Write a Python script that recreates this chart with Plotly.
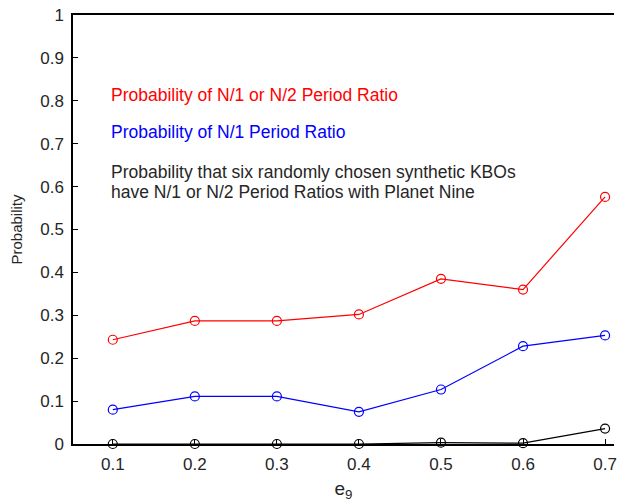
import plotly.graph_objects as go

e9 = [0.1, 0.2, 0.3, 0.4, 0.5, 0.6, 0.7]
p_n1_or_n2 = [0.243, 0.287, 0.287, 0.302, 0.385, 0.360, 0.576]
p_n1 = [0.080, 0.111, 0.111, 0.075, 0.127, 0.228, 0.253]
p_six = [0.0, 0.0, 0.0, 0.0, 0.003, 0.002, 0.036]

x_ticks = [0.1, 0.2, 0.3, 0.4, 0.5, 0.6, 0.7]
y_ticks = [0, 0.1, 0.2, 0.3, 0.4, 0.5, 0.6, 0.7, 0.8, 0.9, 1]
y_tick_text = ["0", "0.1", "0.2", "0.3", "0.4", "0.5", "0.6", "0.7", "0.8", "0.9", "1"]

FONT = "Liberation Sans, Arial, sans-serif"

fig = go.Figure()
for ys, col in [(p_n1_or_n2, "#ff0000"), (p_n1, "#0000ff"), (p_six, "#000000")]:
    fig.add_trace(go.Scatter(
        x=e9, y=ys, mode="lines+markers",
        line=dict(color=col, width=1.2),
        marker=dict(symbol="circle-open", size=9, color=col, line=dict(width=1.2)),
        showlegend=False, cliponaxis=False,
    ))

fig.update_layout(
    width=618, height=502,
    margin=dict(l=73, r=1, t=15, b=58),
    plot_bgcolor="white", paper_bgcolor="white",
    font=dict(family=FONT, color="#262626"),
    xaxis=dict(
        range=[0.0515, 0.7109], tickvals=x_ticks, ticktext=[str(v) for v in x_ticks],
        ticks="inside", ticklen=5, tickcolor="#000", tickwidth=1,
        showline=True, linecolor="#000", linewidth=2, mirror=True,
        showgrid=False, zeroline=False, ticklabeloverflow="allow",
        ticklabelstandoff=4,
        tickfont=dict(size=17, color="#262626"),
        title=dict(text="e<sub>9</sub>", font=dict(size=19, color="#262626"), standoff=8),
    ),
    yaxis=dict(
        range=[0, 1], tickvals=y_ticks, ticktext=y_tick_text,
        ticks="inside", ticklen=5, tickcolor="#000", tickwidth=1,
        showline=True, linecolor="#000", linewidth=1.5,
        showgrid=False, zeroline=False, ticklabelstandoff=4,
        tickfont=dict(size=17, color="#262626"),
        title=dict(text="Probability", font=dict(size=15, color="#262626"), standoff=14),
    ),
)

ann = [
    ("Probability of N/1 or N/2 Period Ratio", 0.813, "#ff0000"),
    ("Probability of N/1 Period Ratio", 0.727, "#0000ff"),
    ("Probability that six randomly chosen synthetic KBOs", 0.634, "#262626"),
    ("have N/1 or N/2 Period Ratios with Planet Nine", 0.587, "#262626"),
]
for text, yv, col in ann:
    fig.add_annotation(
        x=0.0952, y=yv, xref="x", yref="y", text=text, showarrow=False,
        xanchor="left", yanchor="middle", align="left",
        font=dict(family=FONT, size=17.5, color=col),
    )

fig.write_html("out.html", config={"displayModeBar": False},
               post_script="document.body.style.margin='0';")
